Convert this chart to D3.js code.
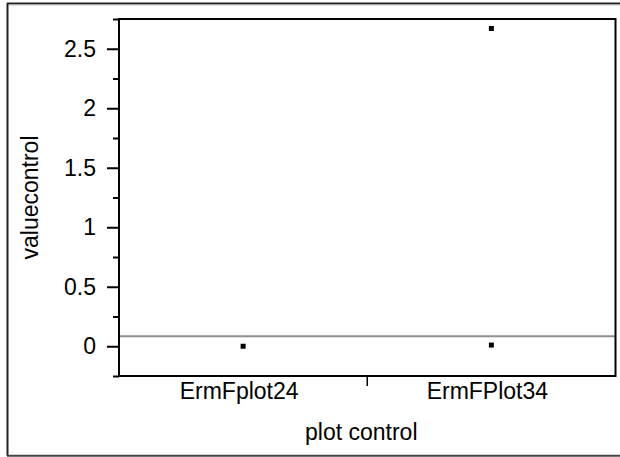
<!DOCTYPE html>
<html><head><meta charset="utf-8">
<script src="https://cdn.jsdelivr.net/npm/d3@7"></script>
<style>body{margin:0;background:#fff}svg{display:block;font-family:"Liberation Sans",Arial,sans-serif}</style>
</head><body><svg id="c" width="620" height="457"></svg>
<script>
const categories = ["ErmFplot24", "ErmFPlot34"];
const pointCats = ["ErmFplot24", "ErmFPlot34", "ErmFPlot34"];
const pointValues = [0.0, 0.01, 2.67];
const refLineValue = 0.084;
const majorTicks = [0, 0.5, 1, 1.5, 2, 2.5];
const minorTicks = [-0.25, 0.25, 0.75, 1.25, 1.75, 2.25, 2.75];
const xLabel = "plot control", yLabel = "valuecontrol";

const svg = d3.select("#c");
const L = 119, R = 615.5, T = 19, B = 376;
const x = d3.scaleBand().domain(categories).range([L, R]);
const y = d3.scaleLinear().domain([-0.25, 2.75]).range([B, T]);
const fs = 23;

// outer border
svg.append("line").attr("x1",7).attr("x2",620).attr("y1",3.5).attr("y2",3.5).attr("stroke","#222").attr("stroke-width",2);
svg.append("line").attr("x1",7).attr("x2",620).attr("y1",4.8).attr("y2",4.8).attr("stroke","#aaa").attr("stroke-width",1);
svg.append("line").attr("x1",7.5).attr("x2",7.5).attr("y1",3).attr("y2",456).attr("stroke","#222").attr("stroke-width",2);
svg.append("line").attr("x1",7).attr("x2",620).attr("y1",455.8).attr("y2",455.8).attr("stroke","#444").attr("stroke-width",2);

// reference line
svg.append("line").attr("x1",L).attr("x2",R).attr("y1",y(refLineValue)).attr("y2",y(refLineValue))
  .attr("stroke","#8f8f8f").attr("stroke-width",2);

// frame
svg.append("rect").attr("x",L).attr("y",T).attr("width",R-L).attr("height",B-T)
  .attr("fill","none").attr("stroke","#000").attr("stroke-width",2);

// y axis
const yAxis = d3.axisLeft(y).tickValues(majorTicks).tickSize(12).tickPadding(11)
  .tickFormat(d3.format("~g"));
const gy = svg.append("g").attr("transform",`translate(${L},0)`).call(yAxis);
gy.select(".domain").remove();
gy.selectAll(".tick line").attr("stroke","#000").attr("stroke-width",2);
gy.selectAll(".tick text").attr("font-size",fs).attr("fill","#000").attr("font-family","Liberation Sans, Arial, sans-serif");
const gym = svg.append("g").attr("transform",`translate(${L},0)`)
  .call(d3.axisLeft(y).tickValues(minorTicks).tickSize(6).tickFormat(""));
gym.select(".domain").remove();
gym.selectAll(".tick line").attr("stroke","#000").attr("stroke-width",2);

// x axis: separator tick between categories, labels at centers
const sep = (x(categories[0]) + x.bandwidth() + x(categories[1])) / 2;
svg.append("line").attr("x1",sep).attr("x2",sep).attr("y1",B).attr("y2",B+10).attr("stroke","#000").attr("stroke-width",1.5);
svg.append("g").selectAll("text").data(categories).join("text")
  .attr("x", d => x(d) + x.bandwidth()/2 - 4).attr("y", 399)
  .attr("text-anchor","middle").attr("font-size",fs).attr("fill","#000").text(d => d);

// points
svg.append("g").selectAll("rect").data(pointValues).join("rect")
  .attr("x",(d,i) => x(pointCats[i]) + x.bandwidth()/2 - 2.5)
  .attr("y", d => y(d) - 2.5).attr("width",5).attr("height",5).attr("fill","#000");

// axis titles
svg.append("text").attr("x",(L+R)/2 - 6).attr("y",439.5).attr("text-anchor","middle")
  .attr("font-size",fs).attr("fill","#000").text(xLabel);
svg.append("text").attr("transform",`translate(38,${(T+B)/2}) rotate(-90)`)
  .attr("text-anchor","middle").attr("font-size",fs).attr("fill","#000").text(yLabel);
</script></body></html>
